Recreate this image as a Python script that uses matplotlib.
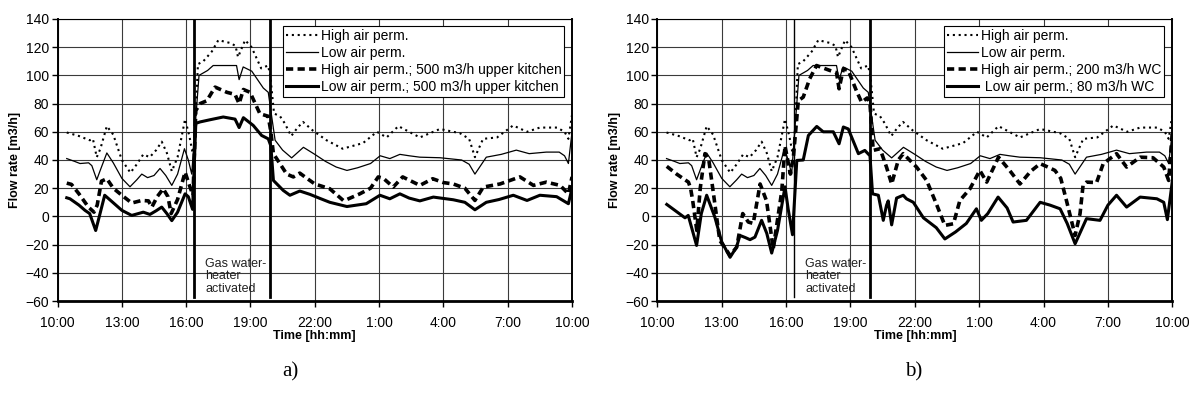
import matplotlib.pyplot as plt

plt.rcParams['font.family'] = ['Liberation Sans', 'DejaVu Sans']

# time in hours after 10:00
xticks = [0, 3, 6, 9, 12, 15, 18, 21, 24]
xlabels = ['10:00', '13:00', '16:00', '19:00', '22:00', '1:00', '4:00', '7:00', '10:00']
heater_on = 6.35
heater_off = 9.9

# high air permeability (same in both charts)
high_t = [0.43, 1.0, 1.5, 1.65, 1.83, 2.0, 2.3, 2.6, 3.0, 3.4, 3.7, 4.0, 4.3, 4.6, 4.86, 5.1,
          5.33, 5.6, 5.95, 6.15, 6.3, 6.38, 6.55, 6.8, 7.2, 7.5, 8.05, 8.3, 8.42, 8.75, 9.05,
          9.5, 9.82, 9.92, 10.1, 10.38, 10.6, 10.9, 11.2, 11.45, 11.9, 12.55, 13.3, 14.25,
          14.9, 15.35, 15.9, 16.4, 16.9, 17.84, 18.77, 19.2, 19.47, 19.85, 20.5, 21.25, 21.9,
          22.5, 23.3, 23.65, 23.83, 24.0]
high_v = [59.5, 57, 54, 55, 42, 48, 64, 58, 40, 31, 37, 44, 42, 47, 53, 45,
          32, 42, 69, 57, 45, 50, 108, 110, 117, 125, 123, 121, 113, 125, 120,
          105, 107, 100, 73, 71, 66, 57, 63, 67, 61, 54, 48, 52,
          60, 56, 64, 60, 56, 62, 59, 55, 42, 55, 56, 64.5, 60,
          63, 63, 60, 55, 72]

# low air permeability (same in both charts)
low_t = [0.43, 0.8, 1.05, 1.45, 1.6, 1.83, 2.0, 2.3, 2.6, 3.0, 3.38, 3.7, 3.93, 4.2, 4.5,
         4.78, 5.05, 5.33, 5.6, 5.92, 6.1, 6.26, 6.4, 6.6, 7.0, 7.26, 8.35, 8.47, 8.66, 9.06,
         9.6, 9.83, 9.95, 10.15, 10.5, 10.92, 11.47, 12.0, 12.5, 13.0, 13.5, 14.0, 14.6,
         15.05, 15.5, 15.97, 16.4, 16.9, 17.84, 18.85, 19.2, 19.47, 20.0, 20.7, 21.4, 22.0,
         22.8, 23.4, 23.65, 23.83, 24.0]
low_v = [41, 39, 37.5, 38, 36, 26, 33, 45, 38, 27, 21, 26, 30, 27.5, 29,
         34, 29, 22, 30, 48, 40, 30, 60, 100, 103.5, 107, 107, 97, 106, 103,
         91, 88, 75, 54, 47, 41.5, 49, 44, 39, 35, 32.6, 34.5, 37.5,
         43, 41, 44, 43, 42, 41.6, 40, 37, 30, 42, 44, 47, 44.5,
         45.6, 45.6, 43, 37.5, 60]

# a) high air perm.; 500 m3/h upper kitchen
hk_t = [0.43, 0.65, 1.0, 1.44, 1.7, 1.85, 2.05, 2.3, 2.6, 3.0, 3.46, 3.93, 4.24, 4.4, 4.65,
        4.93, 5.15, 5.3, 5.6, 5.95, 6.18, 6.32, 6.45, 6.65, 6.96, 7.35, 7.9, 8.28, 8.47,
        8.67, 8.98, 9.44, 9.83, 9.95, 10.07, 10.69, 11.0, 11.3, 11.54, 12.0, 12.7, 13.33,
        13.5, 14.1, 14.6, 14.96, 15.2, 15.66, 16.1, 16.5, 16.9, 17.5, 18.0, 18.46, 19.0,
        19.47, 19.86, 20.64, 21.57, 22.2, 22.8, 23.44, 23.83, 24.0]
hk_v = [23.6, 22.7, 16, 6.6, 3, 8, 25, 26.7, 20, 15, 9.5, 11.3, 11, 6.6, 14,
        19.6, 14, 2, 12, 31.4, 20.8, 15, 75, 80, 82, 91.7, 88, 86.5, 80,
        90, 88, 72.8, 71, 60, 44.5, 30, 28, 30.7, 28, 23, 19.6, 11.3,
        12, 16, 20, 28, 27, 20.8, 28, 25, 22, 26.7, 24, 23, 20,
        11.3, 20.8, 23, 28, 22, 24.3, 22, 16, 28]

# a) low air perm.; 500 m3/h upper kitchen
lk_t = [0.43, 0.58, 1.0, 1.28, 1.5, 1.78, 2.0, 2.2, 2.5, 3.0, 3.46, 4.0, 4.31, 4.6, 4.86,
        5.1, 5.33, 5.6, 5.95, 6.1, 6.3, 6.45, 6.65, 7.1, 7.73, 8.28, 8.47, 8.67, 9.13, 9.52,
        9.83, 9.95, 10.07, 10.53, 10.84, 11.3, 11.78, 12.2, 12.7, 13.5, 14.4, 15.04, 15.5,
        15.97, 16.4, 16.9, 17.53, 18.46, 19.0, 19.47, 20.0, 20.6, 21.26, 21.9, 22.5, 23.28,
        23.83, 24.0]
lk_v = [13.2, 12.5, 8, 4.3, 2, -10, 3, 15, 11, 4.3, 0.7, 3, 1.4, 4, 6.6,
        2, -3, 3, 16, 14, 5, 66, 67, 68.5, 70.5, 69, 63, 70, 64.5, 57.4,
        55, 50, 25.5, 18.4, 15, 18, 15.6, 13, 10, 7, 9, 15, 12.5,
        16, 13, 11, 13.7, 11.8, 10, 4.7, 10, 12, 15, 11.3, 15, 14,
        9, 20]

# b) high air perm.; 200 m3/h WC
wh_t = [0.44, 0.9, 1.45, 1.55, 1.65, 1.84, 2.0, 2.22, 2.4, 2.6, 2.91, 3.39, 3.7, 3.98, 4.24,
        4.47, 4.79, 5.09, 5.4, 5.8, 5.95, 6.2, 6.34, 6.57, 6.8, 7.1, 7.42, 8.04, 8.35, 8.47,
        8.67, 8.9, 9.28, 9.52, 9.78, 9.91, 10.06, 10.38, 10.68, 10.92, 11.23, 11.46, 12.08,
        12.55, 13.0, 13.4, 13.8, 14.1, 14.57, 15.03, 15.35, 15.9, 16.4, 16.9, 17.4, 17.84,
        18.2, 18.53, 18.8, 19.07, 19.47, 19.7, 19.84, 20.0, 20.47, 20.78, 21.4, 21.87, 22.5,
        23.1, 23.6, 23.83, 24.0]
wh_v = [35.5, 30, 24.3, 20, 11, -10, 20, 44.5, 40, 18, -17, -27.7, -21.8, 2, -4,
        -5, 23, 11, -23, 18, 50, 30, 42, 82, 84.6, 97.6, 107, 103.5, 102, 90.5,
        104.7, 103.5, 89, 81, 84, 80, 46.8, 48, 35, 23, 40, 44.5, 35,
        25.5, 9, -6.4, -5.2, 11.3, 19.6, 32.6, 24.3, 42, 33, 23, 32, 37.4,
        35, 32.6, 27, 11, -13.5, 2, 22, 24.3, 24, 37.4, 44.5, 35, 42,
        41.6, 35, 25.5, 60]

# b) low air perm.; 80 m3/h WC
wl_t = [0.44, 1.29, 1.44, 1.6, 1.83, 2.05, 2.3, 2.68, 3.0, 3.39, 3.69, 3.85, 4.1, 4.32, 4.55,
        4.86, 5.1, 5.33, 5.6, 5.95, 6.1, 6.3, 6.5, 6.8, 7.04, 7.43, 7.73, 8.2, 8.47, 8.67,
        8.9, 9.37, 9.67, 9.91, 10.03, 10.3, 10.53, 10.68, 10.76, 10.92, 11.15, 11.46, 11.61,
        11.93, 12.4, 13.0, 13.4, 13.9, 14.4, 14.87, 15.1, 15.4, 15.88, 16.3, 16.58, 17.2,
        17.84, 18.3, 18.77, 19.1, 19.47, 20.0, 20.63, 21.0, 21.4, 21.87, 22.5, 23.28, 23.6,
        23.77, 24.0]
wl_v = [8.5, -1, 0.7, -8, -20.6, 2, 15, -0.5, -18, -29, -21.8, -13.5, -15, -16.5, -14.7,
        -2.8, -12, -26, -10, 21, 5, -13, 39.7, 40, 57.4, 63.8, 60, 60, 51.5, 63.4,
        62, 44.5, 46.8, 43, 16, 15, -2.8, 7.8, 11, -6, 13, 15, 12.5,
        10, -1, -8, -16, -11, -5, 5.4, -2.8, 2, 13.7, 6, -4, -2.8,
        10, 8, 5.4, -5, -19.4, -1.6, -2.8, 8, 15, 6.6, 13.7, 12.5, 10,
        -2.3, 25]

dot_style = (0, (1.0, 1.8))
dash_style = (0, (2.0, 1.2))

fig = plt.figure(figsize=(11.96, 3.99), dpi=100)


def make_panel(rect, series, labels, on_lw, label_letter, letter_x):
    ax = fig.add_axes(rect)
    ax.set_xlim(0, 24)
    ax.set_ylim(-60, 140)
    ax.set_xticks(xticks)
    ax.set_xticklabels(xlabels)
    ax.set_yticks(range(-60, 141, 20))
    ax.grid(True, color='#3a3a3a', lw=0.8)
    ax.set_axisbelow(True)
    for s in ['left', 'right']:
        ax.spines[s].set_linewidth(1.4)
    ax.spines['bottom'].set_linewidth(2.0)
    ax.spines['top'].set_linewidth(0.8)
    ax.tick_params(axis='both', labelsize=10, length=4, width=1, direction='out', pad=2)
    ax.tick_params(axis='x', pad=7)

    ax.plot([heater_on, heater_on], [-57, 140], color='black', lw=on_lw)
    ax.plot([heater_off, heater_off], [-57, 140], color='black', lw=2.0)

    (t1, v1), (t2, v2), (t3, v3), (t4, v4) = series
    ax.plot(t1, v1, color='black', lw=1.5, linestyle=dot_style, label=labels[0])
    ax.plot(t2, v2, color='black', lw=0.9, label=labels[1])
    ax.plot(t3, v3, color='black', lw=2.6, linestyle=dash_style, label=labels[2])
    ax.plot(t4, v4, color='black', lw=2.2, label=labels[3])

    leg = ax.legend(loc='upper right', bbox_to_anchor=(0.99, 0.985), fontsize=10,
                    frameon=True, fancybox=False, framealpha=1, edgecolor='black',
                    borderpad=0.2, labelspacing=0.22, handlelength=2.3,
                    handletextpad=0.2, borderaxespad=0.2)
    leg.get_frame().set_linewidth(0.8)

    ax.text(6.9, -56, 'Gas water-\nheater\nactivated', fontsize=9, ha='left', va='bottom',
            linespacing=1.1, color='#222222')
    ax.set_ylabel('Flow rate [m3/h]', fontsize=9, fontweight='bold', labelpad=3)
    ax.set_xlabel('Time [hh:mm]', fontsize=9, fontweight='bold', labelpad=0)
    fig.text(letter_x, 0.068, label_letter, fontsize=15, family='Liberation Serif',
             ha='center', va='center')
    return ax


rect_a = [0.0481, 0.2456, 0.4302, 0.7068]
rect_b = [0.5496, 0.2456, 0.4306, 0.7068]

make_panel(rect_a,
           [(high_t, high_v), (low_t, low_v), (hk_t, hk_v), (lk_t, lk_v)],
           ['High air perm.', 'Low air perm.',
            'High air perm.; 500 m3/h upper kitchen',
            'Low air perm.; 500 m3/h upper kitchen'],
           2.0, 'a)', 0.243)
make_panel(rect_b,
           [(high_t, high_v), (low_t, low_v), (wh_t, wh_v), (wl_t, wl_v)],
           ['High air perm.', 'Low air perm.',
            'High air perm.; 200 m3/h WC',
            ' Low air perm.; 80 m3/h WC'],
           1.0, 'b)', 0.764)

fig.savefig('out.png', dpi=100)
